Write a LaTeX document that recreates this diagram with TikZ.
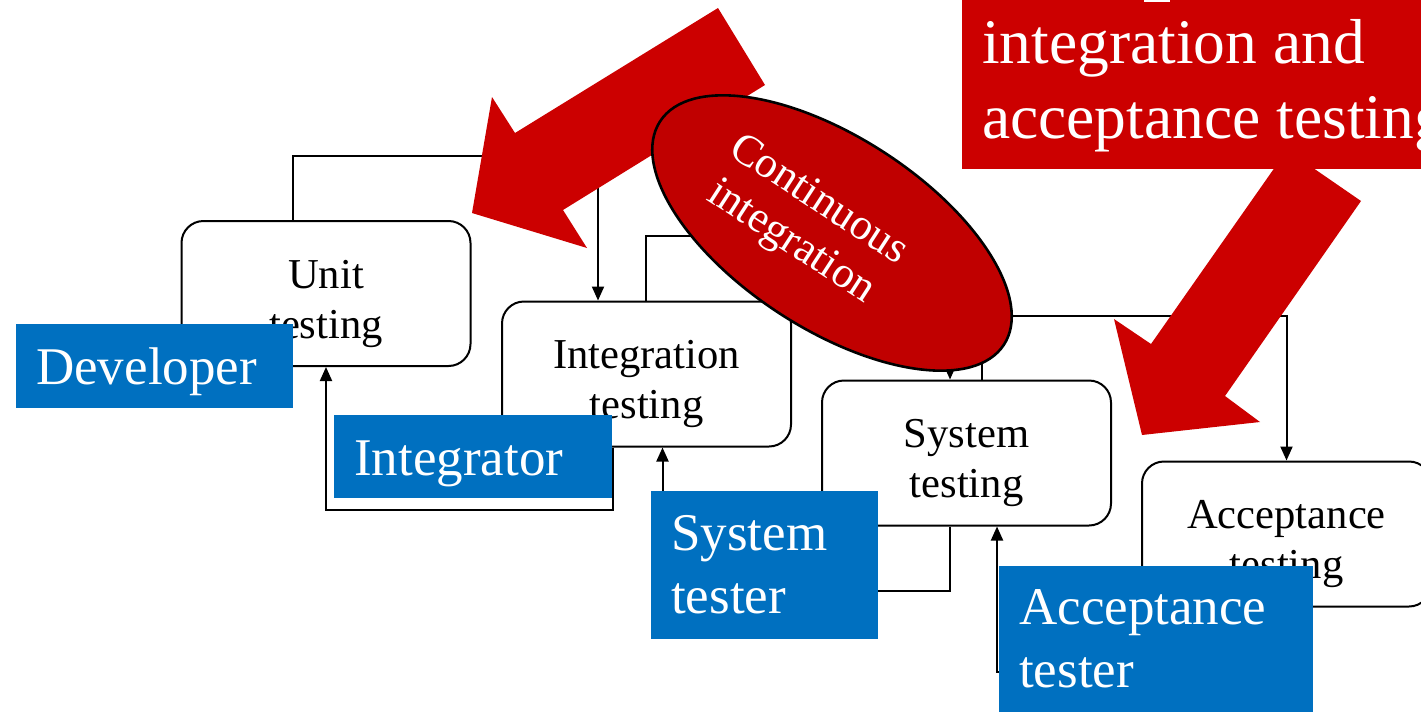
\documentclass[tikz,border=0pt]{standalone}
\usepackage{fontspec}
\setmainfont{Liberation Serif}
\usetikzlibrary{arrows.meta,shapes.geometric}
\definecolor{arrowred}{HTML}{CC0000}
\definecolor{ellred}{HTML}{C00000}
\definecolor{rolblue}{HTML}{0070C0}
\begin{document}
\begin{tikzpicture}[x=1pt,y=-1pt,
  stage/.style={draw, line width=2pt, rounded corners=22pt, fill=white,
    minimum width=289pt, minimum height=145pt, inner sep=0pt, align=center,
    font=\fontsize{42.6pt}{50pt}\selectfont},
  role/.style={fill=rolblue, text=white, anchor=north west, inner xsep=20pt,
    inner ysep=0pt, align=left, font=\fontsize{53pt}{63pt}\selectfont},
  conn/.style={line width=2pt, -{Triangle[length=14pt,width=12pt]}},
  bigarrow/.style={fill=arrowred}]

\useasboundingbox (0,0) rectangle (1421,712);
\clip (0,0) rectangle (1421,712);

% stages
\node[stage] (unit)  at (326,293.5)  {\rule{0pt}{49pt}Unit\\testing};
\node[stage] (integ) at (646.5,374)  {\rule{0pt}{49pt}Integration\\testing};
\node[stage] (sys)   at (966.5,453)  {\rule{0pt}{49pt}System\\testing};
\node[stage] (acc)   at (1286.5,534) {\rule{0pt}{49pt}Acceptance\\testing};

% forward connectors
\draw[conn] ([xshift=-33pt]unit.north) -- ++(0,-64) -| ([xshift=-48.5pt]integ.north);
\draw[conn] ([xshift=-0.5pt]integ.north) -- ++(0,-65) -| ([xshift=-16.5pt]sys.north);
\draw[conn] ([xshift=15.5pt]sys.north) -- ++(0,-64) -| (acc.north);

% feedback connectors
\draw[conn] ([xshift=-33.5pt]integ.south) -- ++(0,62) -| (unit.south);
\draw[conn] ([xshift=-16.5pt]sys.south) -- ++(0,64) -| ([xshift=16pt]integ.south);
\draw[conn] ([xshift=-46.5pt]acc.south) -- ++(0,64) -| ([xshift=30.5pt]sys.south);

% big red arrows
\fill[bigarrow] (718,8) -- (765,85) -- (563,210) -- (587,248) -- (472,213) -- (492,97) -- (515,133) -- cycle;
\fill[bigarrow] (1287,150) -- (1361,201) -- (1225,396) -- (1260,422) -- (1142,435) -- (1114,319) -- (1151,344) -- cycle;

% continuous integration ellipse
\node[ellipse, draw, line width=2.6pt, fill=ellred, minimum width=410pt,
  minimum height=192pt, rotate=-33, inner sep=0pt] (ci) at (832,233) {};
\node[rotate=-33, text=white, align=center, inner sep=0pt,
  font=\fontsize{44pt}{50pt}\selectfont] (citext) at (804,222) {Continuous\\integration};

% red callout box
\fill[arrowred] (962,0) rectangle (1421,169);
\node[anchor=north west, inner sep=0pt, text=white, align=left,
  font=\fontsize{63.5pt}{75pt}\selectfont] (rbtext) at (982,19.6) {integration and\\acceptance testing};
\fill[white] (1144,0) rectangle (1170,2);

% roles
\node[role, minimum width=277pt, minimum height=84pt, text width=237pt] (dev) at (16,324) {\rule{0pt}{47.6pt}Developer};
\node[role, minimum width=278pt, minimum height=83pt, text width=238pt] (integrator) at (334,415) {\rule{0pt}{48.6pt}Integrator};
\node[role, minimum width=227pt, minimum height=148pt, text width=187pt] (stester) at (651,491) {System\\tester};
\node[role, minimum width=314pt, minimum height=146pt, text width=274pt] (atester) at (999,566) {Acceptance\\tester};
\end{tikzpicture}
\end{document}
